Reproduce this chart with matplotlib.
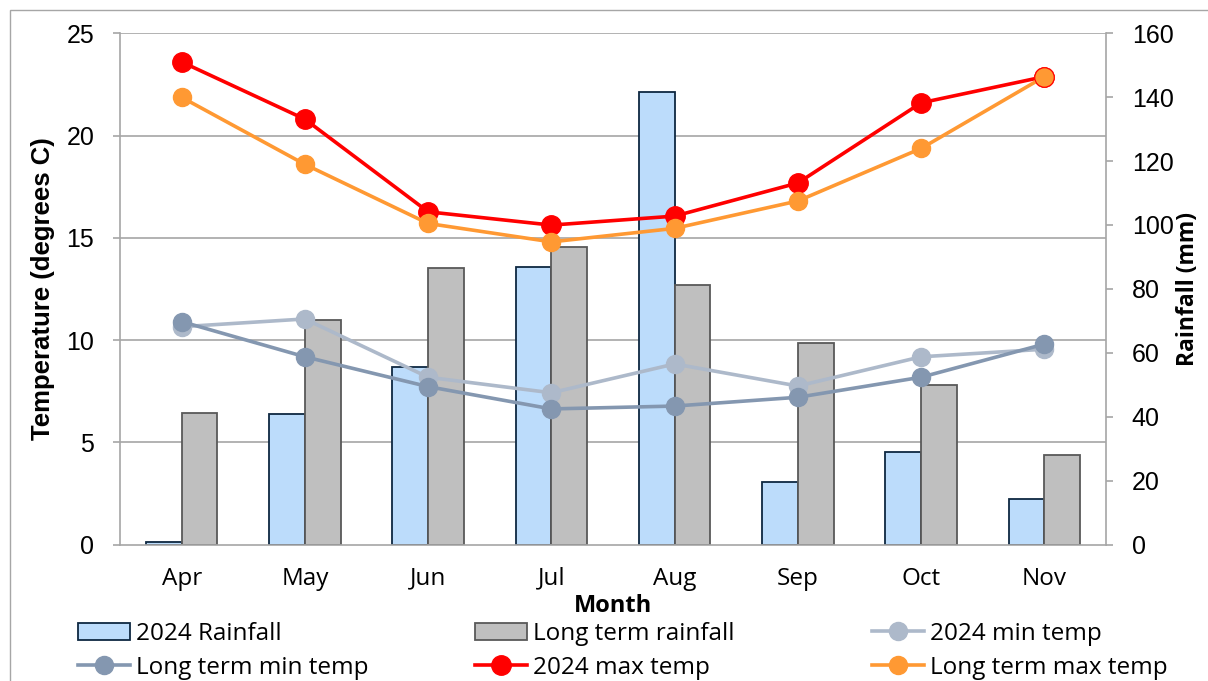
import matplotlib
matplotlib.use("Agg")
import matplotlib.pyplot as plt
from matplotlib.patches import Rectangle
import numpy as np

months = ["Apr", "May", "Jun", "Jul", "Aug", "Sep", "Oct", "Nov"]
rain_2024 = [0.8, 40.7, 55.6, 86.9, 141.7, 19.7, 29.0, 14.1]
rain_lt = [41.2, 70.3, 86.5, 93.0, 81.2, 63.2, 49.8, 28.0]
min_2024 = [10.65, 11.03, 8.18, 7.42, 8.83, 7.75, 9.18, 9.55]
min_lt = [10.9, 9.18, 7.72, 6.63, 6.77, 7.2, 8.18, 9.8]
max_2024 = [23.6, 20.8, 16.27, 15.62, 16.06, 17.68, 21.6, 22.88]
max_lt = [21.87, 18.59, 15.7, 14.8, 15.46, 16.8, 19.37, 22.88]
temp_ticks = [0, 5, 10, 15, 20, 25]
rain_ticks = [0, 20, 40, 60, 80, 100, 120, 140, 160]

W, H = 1208, 681
fig = plt.figure(figsize=(W / 100, H / 100), dpi=100)
fig.patches.append(Rectangle((10 / W, -0.1), 1.2, 1 - 10 / H + 0.1, transform=fig.transFigure,
                             fill=False, edgecolor="#a6a6a6", linewidth=1.0))

left, right, top, bottom = 120 / W, 1106 / W, 1 - 33.3 / H, 1 - 544.5 / H
ax_r = fig.add_axes([left, bottom, right - left, top - bottom])
ax_t = ax_r.twinx()

x = np.arange(len(months))
tmax, rmax = 25, 160
ax_r.set_ylim(0, rmax)
ax_t.set_ylim(0, tmax)
ax_r.set_xlim(-0.5, len(months) - 0.5)

# gridlines (temperature grid drawn on rainfall axis so bars cover them)
for t in temp_ticks[1:]:
    ax_r.axhline(t * rmax / tmax, color="#a6a6a6", lw=1.2, zorder=0)

bw = 0.29
ax_r.bar(x - bw / 2, rain_2024, bw, color="#bcdcfb", edgecolor="#0e2841", lw=1.3, zorder=2,
         label="2024 Rainfall")
ax_r.bar(x + bw / 2, rain_lt, bw, color="#bfbfbf", edgecolor="#595959", lw=1.3, zorder=2,
         label="Long term rainfall")

l1, = ax_t.plot(x, min_2024, color="#adb9ca", lw=2.6, marker="o", ms=13, label="2024 min temp")
l2, = ax_t.plot(x, min_lt, color="#8497b0", lw=2.6, marker="o", ms=13, label="Long term min temp")
l3, = ax_t.plot(x, max_2024, color="#ff0000", lw=2.6, marker="o", ms=14, label="2024 max temp")
l4, = ax_t.plot(x, max_lt, color="#ff9933", lw=2.6, marker="o", ms=13, label="Long term max temp",
                markeredgecolor="#ff9933")
# red edge visible on last orange marker in reference
ax_t.plot(x[-1:], max_lt[-1:], ls="none", marker="o", ms=14, mfc="#ff9933", mec="#ff0000", mew=0.8)

num_font = "Liberation Sans"
txt_font = "Open Sans"

# axes styling
ax_r.yaxis.tick_right()
ax_r.yaxis.set_label_position("right")
ax_t.yaxis.tick_left()
ax_t.yaxis.set_label_position("left")
ax_r.set_yticks(rain_ticks)
ax_t.set_yticks(temp_ticks)
for a in (ax_r, ax_t):
    for s in a.spines.values():
        s.set_visible(False)
ax_r.spines["right"].set_visible(True)
ax_r.spines["bottom"].set_visible(True)
ax_t.spines["left"].set_visible(True)
for s in (ax_r.spines["right"], ax_r.spines["bottom"], ax_t.spines["left"]):
    s.set_color("#a6a6a6")
    s.set_linewidth(1.2)

ax_r.tick_params(axis="y", direction="out", length=5, width=1.2, color="#a6a6a6",
                 labelsize=18, pad=13.5, right=True, left=False, labelright=True, labelleft=False)
ax_t.tick_params(axis="y", direction="out", length=5, width=1.2, color="#a6a6a6",
                 labelsize=18, pad=13.5, left=True, right=False, labelleft=True, labelright=False)
for lab in ax_r.get_yticklabels() + ax_t.get_yticklabels():
    lab.set_fontfamily(num_font)

ax_r.set_xticks(np.arange(len(months) + 1) - 0.5)
ax_r.set_xticklabels([])
ax_r.set_xticks(x, minor=True)
ax_r.set_xticklabels(months, minor=True, fontfamily=txt_font, fontsize=17.5)
ax_r.tick_params(axis="x", which="major", direction="out", length=5, width=1.2, color="#a6a6a6")
ax_r.tick_params(axis="x", which="minor", length=0, pad=16)
ax_t.set_xticks([])

ax_t.set_ylabel("Temperature (degrees C)", fontfamily=num_font, fontweight="bold", fontsize=18.5,
                labelpad=8)
ax_r.set_ylabel("Rainfall (mm)", fontfamily=txt_font, fontweight="bold", fontsize=16.5,
                labelpad=2)
ax_r.set_xlabel("Month", fontfamily=txt_font, fontweight="bold", fontsize=17, labelpad=2)

# legend in three column blocks
handles_r, labels_r = ax_r.get_legend_handles_labels()
cols = [([handles_r[0], l2], [labels_r[0], l2.get_label()]),
        ([handles_r[1], l3], [labels_r[1], l3.get_label()]),
        ([l1, l4], [l1.get_label(), l4.get_label()])]
xs = [78, 475, 872]
for (hs, ls), xx in zip(cols, xs):
    fig.legend(hs, ls, loc="upper left", bbox_to_anchor=(xx / W, 1 - 622 / H), frameon=False,
               ncol=1, borderpad=0, borderaxespad=0, handlelength=2.14, handletextpad=0.25,
               labelspacing=0.4, prop={"family": txt_font, "size": 17.5}, numpoints=1)

fig.savefig("out.png", dpi=100)
